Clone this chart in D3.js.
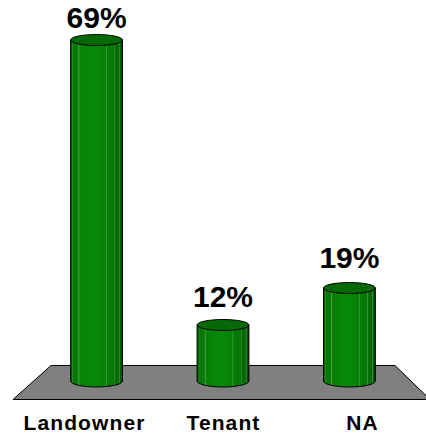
<!DOCTYPE html>
<html><head><meta charset="utf-8">
<script src="https://cdn.jsdelivr.net/npm/d3@7/dist/d3.min.js"></script>
<style>html,body{margin:0;padding:0;background:#fff}svg{display:block}</style>
</head><body><svg id="c" width="426" height="433"></svg>
<script>
const categories = ["Landowner", "Tenant", "NA"];
const values = [69, 12, 19];
const labels = ["69%", "12%", "19%"];
const svg = d3.select("#c");
const x = d3.scaleBand().domain(categories).range([34, 412]).paddingInner(0.59).paddingOuter(0.29);
const y = d3.scaleLinear().domain([12, 19, 69]).range([325, 288, 40]);
const labelY = d3.scaleLinear().domain([12, 19, 69]).range([307, 268, 28]);
const catX = d3.scalePoint().domain(categories).range([84.5, 362.5]);
const baseY = 381, ryBottom = 6, ryTop = 5.5;
const defs = svg.append("defs");
const g = defs.append("linearGradient").attr("id","cyl");
[[0,"#024d02"],[0.025,"#046a04"],[0.035,"#2f8a2f"],[0.05,"#057605"],[0.14,"#067c06"],[0.155,"#4da44d"],[0.175,"#078007"],[0.45,"#078a07"],[0.675,"#068006"],[0.69,"#3f9a3f"],[0.705,"#067c06"],[0.84,"#067406"],[0.85,"#3f933f"],[0.865,"#056e05"],[0.93,"#056805"],[0.945,"#3d8a3d"],[0.96,"#056005"],[1,"#023f02"]]
 .forEach(s=>g.append("stop").attr("offset",s[0]).attr("stop-color",s[1]));
svg.append("path").attr("d","M51,365.5H395L430,399.5H13Z").attr("fill","#808080").attr("stroke","#000").attr("stroke-width",1);
const bw = x.bandwidth();
const bars = svg.selectAll("g.bar").data(categories).join("g").attr("class","bar");
bars.append("path")
 .attr("d",(c,i)=>{const l=x(c),r=l+bw,t=y(values[i]);return `M${l},${t}V${baseY}A${bw/2},${ryBottom} 0 0 0 ${r},${baseY}V${t}Z`;})
 .attr("fill","url(#cyl)").attr("stroke","#000").attr("stroke-width",1);
bars.append("ellipse")
 .attr("cx",c=>x(c)+bw/2).attr("cy",(c,i)=>y(values[i])).attr("rx",bw/2).attr("ry",ryTop)
 .attr("fill","#056a05").attr("stroke","#000").attr("stroke-width",1);
svg.selectAll("text.v").data(labels).join("text").attr("class","v")
 .attr("x",(d,i)=>x(categories[i])+bw/2).attr("y",(d,i)=>labelY(values[i]))
 .attr("text-anchor","middle").attr("font-family","Liberation Sans").attr("font-weight","bold").attr("font-size",30).text(d=>d);
svg.selectAll("text.c").data(categories).join("text").attr("class","c")
 .attr("x",c=>catX(c)).attr("y",430)
 .attr("text-anchor","middle").attr("font-family","Liberation Sans").attr("font-weight","bold").attr("font-size",21).attr("letter-spacing",1.1).text(d=>d);
</script></body></html>
